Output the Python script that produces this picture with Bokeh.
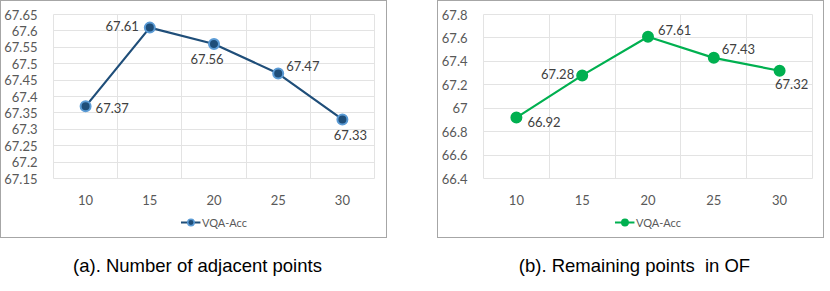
from bokeh.plotting import figure
from bokeh.models import (ColumnDataSource, FixedTicker, Range1d, Legend, LegendItem,
                          CustomJSTickFormatter, Div, Spacer)
from bokeh.layouts import row, column
from bokeh.embed import file_html
from bokeh.resources import INLINE
from bokeh.core.properties import value

# ---------------- data ----------------
categories = [10, 15, 20, 25, 30]
acc_adjacent = [67.37, 67.61, 67.56, 67.47, 67.33]
acc_remaining = [66.92, 67.28, 67.61, 67.43, 67.32]
yticks_a = [67.15, 67.2, 67.25, 67.3, 67.35, 67.4, 67.45, 67.5, 67.55, 67.6, 67.65]
yticks_b = [66.4, 66.6, 66.8, 67.0, 67.2, 67.4, 67.6, 67.8]
series_name = "VQA-Acc"
caption_a = "(a). Number of adjacent points"
caption_b = "(b). Remaining points  in OF"

# label placement (style only)
align_a = ["left", "right", "center", "left", "center"]
dx_a = [10, -11, -7, 8, 8]
dy_a = [2, -2, 15, -8, 16]
align_b = ["left", "right", "left", "left", "center"]
dx_b = [11, -8, 10, 8, 12]
dy_b = [4, -1, -7, -9, 13]

FONT = "Lato"
GRID = "#e3e3e3"
TXT = "#595959"
W = 385

fmt = CustomJSTickFormatter(code="return String(parseFloat(tick.toFixed(2)));")


def make_panel(yvals, yticks, color, outline, align, dx, dy, left_border, right_border):
    p = figure(width=W, height=206, output_backend="svg", toolbar_location=None,
               x_range=Range1d(7.5, 32.5), y_range=Range1d(yticks[0], yticks[-1]),
               min_border_left=left_border, min_border_right=right_border,
               min_border_top=13, min_border_bottom=27)
    p.outline_line_color = GRID
    p.background_fill_color = "white"
    p.border_fill_color = "white"

    p.xaxis.ticker = FixedTicker(ticks=categories)
    p.yaxis.ticker = FixedTicker(ticks=yticks)
    p.yaxis.formatter = fmt
    for ax in (p.xaxis, p.yaxis):
        ax.axis_line_color = None
        ax.major_tick_line_color = None
        ax.minor_tick_line_color = None
        ax.major_label_text_color = TXT
        ax.major_label_text_font = FONT
        ax.major_label_text_font_size = "13px"
    p.xaxis.major_label_standoff = 10
    p.yaxis.major_label_standoff = 10

    p.xgrid.ticker = FixedTicker(ticks=[7.5, 12.5, 17.5, 22.5, 27.5, 32.5])
    p.ygrid.ticker = FixedTicker(ticks=yticks)
    p.xgrid.grid_line_color = GRID
    p.ygrid.grid_line_color = GRID

    src = ColumnDataSource(dict(x=categories, y=yvals,
                                lab=["%.2f" % v for v in yvals],
                                align=align, dx=dx, dy=dy))
    p.line("x", "y", source=src, line_color=color, line_width=2.2)
    p.scatter("x", "y", source=src, size=10, fill_color=color,
              line_color=outline, line_width=2)
    p.text("x", "y", text="lab", source=src, x_offset="dx", y_offset="dy",
           text_align="align", text_baseline="middle", text_color="#404040",
           text_font=value(FONT), text_font_size="13px")

    # legend strip: proxy renderers kept outside the visible range
    lf = figure(width=W, height=30, output_backend="svg", toolbar_location=None,
                x_range=Range1d(0, 1), y_range=Range1d(0, 1),
                min_border=0, outline_line_color=None)
    lf.axis.visible = False
    lf.grid.visible = False
    lr = lf.line(x=[5, 6], y=[5, 6], line_color=color, line_width=2.2)
    sr = lf.scatter(x=[5], y=[5], size=7, fill_color=color, line_color=outline, line_width=1.5)
    legend = Legend(items=[LegendItem(label=series_name, renderers=[lr, sr])],
                    location="center", orientation="horizontal", border_line_alpha=0,
                    background_fill_alpha=0, label_text_font=FONT,
                    label_text_font_size="11px", label_text_color=TXT,
                    glyph_width=20, glyph_height=16, label_standoff=2,
                    padding=0, margin=0, spacing=0)
    lf.add_layout(legend, "center")

    box = column(p, lf, spacing=0, styles={"border": "1px solid #a6a6a6"})
    return box


b1 = make_panel(acc_adjacent, yticks_a, "#1f4e79", "#5b9bd5", align_a, dx_a, dy_a, 46, 12)
b2 = make_panel(acc_remaining, yticks_b, "#00b050", "#00b050", align_b, dx_b, dy_b, 40, 11)

cap_style = {"font-family": "Liberation Sans, Arial, sans-serif", "font-size": "18.5px",
             "color": "#000000", "text-align": "center", "white-space": "pre",
             "width": "385px"}
d1 = Div(text=caption_a, width=W, height=30, styles=cap_style)
d2 = Div(text=caption_b, width=W, height=30, styles=cap_style)

layout = row(column(b1, d1, spacing=10), Spacer(width=42), column(b2, d2, spacing=10))

open("out.html", "w").write(file_html(layout, INLINE))
